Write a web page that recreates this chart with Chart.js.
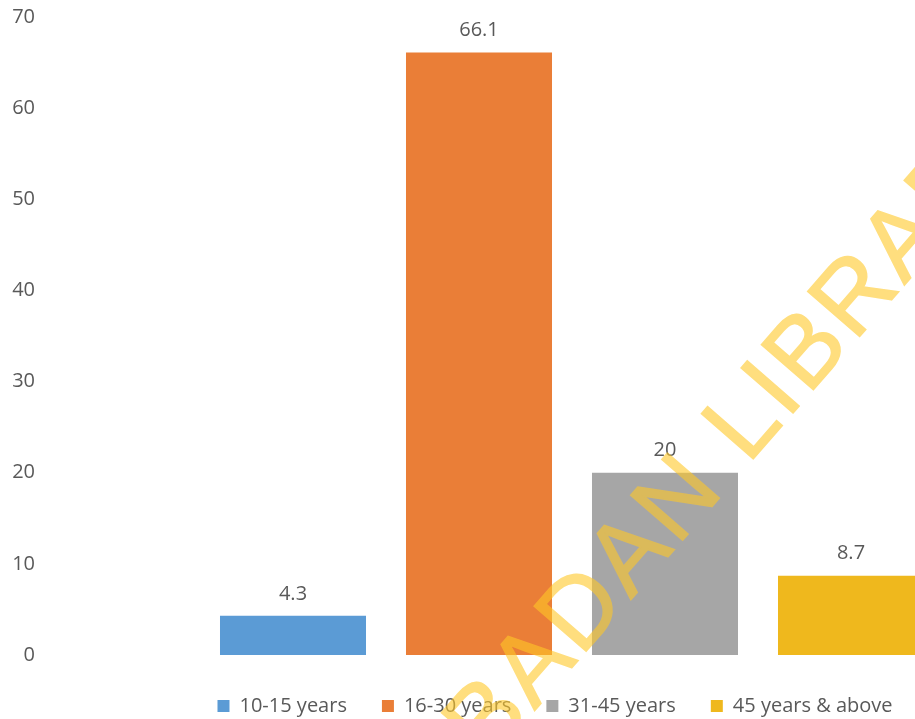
<html>
<head>
<style>
    body { margin: 0; overflow: hidden; background: #ffffff; }
    #wrap { width: 960px; height: 760px; }
</style>
</head>
<body>
<div id="wrap"><canvas id="age_chart" width="960" height="760"></canvas></div>
<script src="https://cdn.jsdelivr.net/npm/chart.js"></script>

<script>
    // data
    const groups = ["10-15 years", "16-30 years", "31-45 years", "45 years & above"];
    const shares = [4.3, 66.1, 20, 8.7];
    const valueText = ["4.3", "66.1", "20", "8.7"];
    const colors = ["#5B9BD5", "#EA7E37", "#A6A6A6", "#EFB81D"];
    const yTicks = [0, 10, 20, 30, 40, 50, 60, 70];
    const watermark = "UNIVERSITY OF IBADAN LIBRARY";

    const FONT = "'Open Sans', 'Liberation Sans', sans-serif";
    const GREY_TEXT = "#595959";

    // numbers above each bar
    const barValues = {
        id: "barValues",
        afterDatasetsDraw(chart) {
            const ctx = chart.ctx;
            ctx.save();
            ctx.font = "20px " + FONT;
            ctx.fillStyle = GREY_TEXT;
            ctx.textAlign = "center";
            ctx.textBaseline = "middle";
            chart.data.datasets.forEach((ds, i) => {
                const bar = chart.getDatasetMeta(i).data[0];
                ctx.fillText(valueText[i], bar.x, bar.y - 22);
            });
            ctx.restore();
        }
    };

    // centre the legend a little left of the plot centre, like the original
    const legendNudge = {
        id: "legendNudge",
        afterLayout(chart) {
            const lg = chart.legend;
            const mid = (chart.chartArea.left + chart.chartArea.right) / 2 - 17;
            const half = (lg.right - lg.left) / 2;
            lg.left = mid - half;
            lg.right = mid + half;
        }
    };

    // the library stamp across the picture, drawn once then laid on see-through
    const stamp = {
        id: "stamp",
        afterDraw(chart) {
            const off = document.createElement("canvas");
            off.width = chart.width;
            off.height = chart.height;
            const o = off.getContext("2d");
            o.font = "100px 'Liberation Sans', sans-serif";
            o.letterSpacing = "4px";
            o.fillStyle = "rgb(255, 200, 40)";
            o.strokeStyle = "rgb(255, 200, 40)";
            o.lineWidth = 1.5;
            o.textBaseline = "alphabetic";
            o.textAlign = "left";
            const pre = o.measureText("UNIVERSITY OF IBADAN ").width;
            o.translate(748, 465);
            o.rotate(-49 * Math.PI / 180);
            o.fillText(watermark, -pre, 0);
            o.strokeText(watermark, -pre, 0);

            const ctx = chart.ctx;
            ctx.save();
            ctx.globalAlpha = 0.6;
            ctx.drawImage(off, 0, 0);
            ctx.restore();
        }
    };

    const ctx = document.getElementById("age_chart").getContext("2d");
    new Chart(ctx, {
        type: "bar",
        data: {
            labels: [""],
            datasets: groups.map((g, i) => ({
                label: g,
                data: [shares[i]],
                backgroundColor: colors[i],
                borderWidth: 0,
                categoryPercentage: 1,
                barPercentage: 0.785
            }))
        },
        options: {
            responsive: false,
            animation: false,
            layout: {
                padding: { left: 0, right: 16, top: 17, bottom: 34 }
            },
            plugins: {
                legend: {
                    position: "bottom",
                    labels: {
                        font: { family: FONT, size: 20 },
                        color: GREY_TEXT,
                        boxWidth: 12,
                        boxHeight: 12,
                        padding: 35
                    }
                },
                tooltip: { enabled: false }
            },
            scales: {
                x: {
                    grid: { display: false, drawTicks: false },
                    border: { display: false },
                    ticks: { display: false },
                    afterFit(axis) { axis.height = 6; }
                },
                y: {
                    min: yTicks[0],
                    max: yTicks[yTicks.length - 1],
                    grid: { display: false, drawTicks: false },
                    border: { display: false },
                    ticks: {
                        stepSize: yTicks[1] - yTicks[0],
                        padding: 165,
                        color: GREY_TEXT,
                        font: { family: FONT, size: 20 }
                    },
                    afterFit(axis) {
                        axis.width = 200;
                        axis.paddingTop = 10;
                        axis.paddingBottom = 10;
                    }
                }
            }
        },
        plugins: [barValues, legendNudge, stamp]
    });
</script>
</body>
</html>
